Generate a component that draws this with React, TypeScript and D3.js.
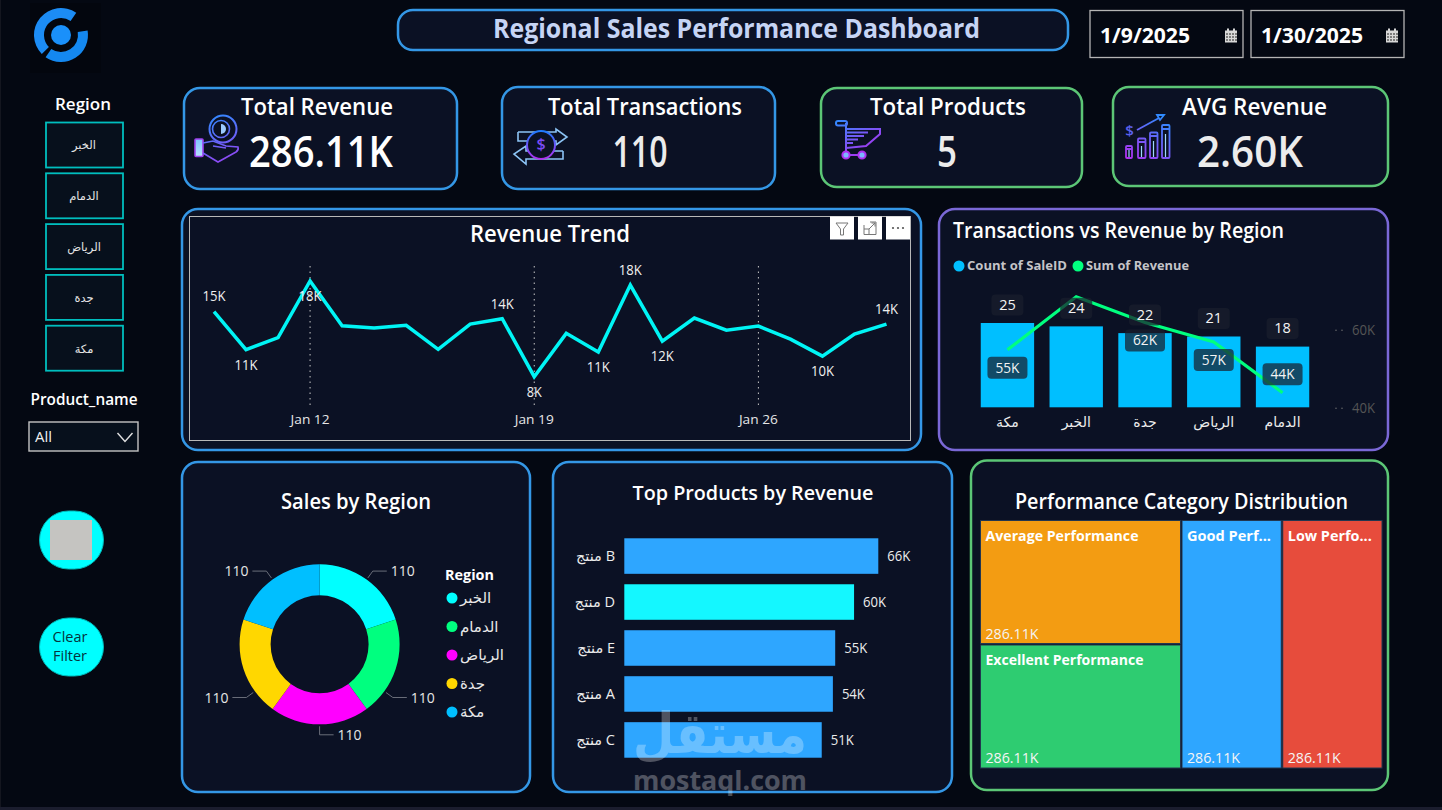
import React from "react";
import * as d3 from "d3";

const FONT = "'Open Sans','DejaVu Sans',sans-serif";

// ---------- data ----------
const trendDays = ["2025-01-09","2025-01-10","2025-01-11","2025-01-12","2025-01-13","2025-01-14","2025-01-15","2025-01-16","2025-01-17","2025-01-18","2025-01-19","2025-01-20","2025-01-21","2025-01-22","2025-01-23","2025-01-24","2025-01-25","2025-01-26","2025-01-27","2025-01-28","2025-01-29","2025-01-30"];
const trendRevenue = [15.07,10.93,12.24,18.4,13.54,13.29,13.58,10.97,13.72,14.3,8.0,12.71,10.68,17.96,11.87,14.37,13.06,13.5,12.08,10.24,12.63,13.72];
const trendLabelled = [0,1,3,9,10,12,13,14,19,21];
const trendLabelsAbove = [0,9,13,21];
const trendTicks = ["2025-01-12","2025-01-19","2025-01-26"];

const comboRegions = ["مكة","الخبر","جدة","الرياض","الدمام"];
const comboCounts = [25,24,22,21,18];
const comboRevenue = [55,68.6,62,57,44];
const comboRevenueShown = [true,false,true,true,true];

const donutRegions = ["الخبر","الدمام","الرياض","جدة","مكة"];
const donutValues = [110,110,110,110,110];
const donutColors = ["#00FFFF","#00FF7F","#FF00FF","#FFD700","#00BFFF"];
const donutLeaderAngles = [36,126,180,234,324];

const products = ["منتج B","منتج D","منتج E","منتج A","منتج C"];
const productRevenue = [66,59.7,54.8,54.2,51.3];
const productColors = ["#2EA6FF","#14F7FF","#2EA6FF","#2EA6FF","#2EA6FF"];

const slicerRegions = ["الخبر","الدمام","الرياض","جدة","مكة"];
const perfNames = ["Average Performance","Excellent Performance","Good Performance","Low Performance"];
const perfValues = [286.11,286.11,286.11,286.11];
const perfColors = ["#F39C12","#2ECC71","#2EA6FF","#E74C3C"];

// ---------- helpers ----------
const BG = "#040812", PANEL = "#0B1124", BLUE = "#3497E6", GREEN = "#5CC676", PURPLE = "#7A68D6";

function T({x,y,w,size=14,weight=400,fill="#fff",anchor="middle",children,opacity}:any){
  return <text x={x} y={y-size*0.05} fontFamily={FONT} fontSize={size} fontWeight={weight} fill={fill} textAnchor={anchor} dominantBaseline="central" opacity={opacity}
    {...(w?{textLength:w,lengthAdjust:"spacingAndGlyphs"}:{})}>{children}</text>;
}
function Panel({x0,y0,x1,y1,stroke,r=16}:any){
  return <rect x={x0} y={y0} width={x1-x0} height={y1-y0} rx={r} fill={PANEL} stroke={stroke} strokeWidth={2.5}/>;
}
function Grad({id,x1,y1,x2,y2,a="#2F8BFF",b="#B030F0"}:any){
  return <linearGradient id={id} gradientUnits="userSpaceOnUse" x1={x1} y1={y1} x2={x2} y2={y2}><stop offset="0" stopColor={a}/><stop offset="1" stopColor={b}/></linearGradient>;
}
function Calendar({x,y}:any){
  return <g>
    <rect x={x-6} y={y-5.5} width={12} height={12} fill="#d8d8d8"/>
    <rect x={x-4} y={y-7.5} width={2} height={3} fill="#d8d8d8"/><rect x={x+2} y={y-7.5} width={2} height={3} fill="#d8d8d8"/>
    {[-3,0,3].map(dy=>[-4,-1,2,5].map(dx=><rect key={dx+"_"+dy} x={x+dx-.5} y={y+dy} width={1} height={2} fill="#222"/>))}
  </g>;
}

export default function App(){
  // trend
  const days = trendDays.map(d=>new Date(d+"T00:00:00"));
  const tx = d3.scaleTime().domain([days[0],days[days.length-1]]).range([214,886.5]);
  const ty = d3.scaleLinear().domain([8,18.4]).range([376.7,281]);
  const trendLine = d3.line<number>().x((_,i)=>tx(days[i])).y(v=>ty(v))(trendRevenue)!;
  const tickFmt = d3.timeFormat("%b %-d");

  // combo
  const cx = d3.scaleBand<string>().domain(comboRegions).range([972.5,1317.5]).paddingInner(0.224).paddingOuter(0.12);
  const cy = d3.scaleLinear().domain([0,25]).range([407.3,323]);
  const cy2 = d3.scaleLinear().domain([40,60]).range([408.3,330.3]);
  const cMid = (r:string)=>cx(r)!+cx.bandwidth()/2;
  const comboLine = d3.line<number>().x((_,i)=>cMid(comboRegions[i])).y(v=>cy2(v))(comboRevenue)!;

  // donut
  const dc = [319.6,644.3];
  const pie = d3.pie<number>().sort(null).startAngle(0).endAngle(2*Math.PI)(donutValues);
  const arc = d3.arc<any>().innerRadius(49).outerRadius(80);

  // products
  const px = d3.scaleLinear().domain([0,66]).range([624.3,878.3]);
  const py = d3.scaleBand<string>().domain(products).range([533,763]).paddingInner(0.227).paddingOuter(0.115);

  // treemap
  const perfRoot = d3.hierarchy<any>({children:[
    {children:[{name:perfNames[0],value:perfValues[0],color:perfColors[0]},{name:perfNames[1],value:perfValues[1],color:perfColors[1]}]},
    {name:perfNames[2],value:perfValues[2],color:perfColors[2]},
    {name:perfNames[3],value:perfValues[3],color:perfColors[3]},
  ]}).sum((d:any)=>d.value||0);
  d3.treemap<any>().size([403,249]).tile((n:any,a:number,b:number,c:number,e:number)=>
    n.depth===0?d3.treemapDice(n,a,b,c,e):d3.treemapSlice(n,a,b,c,e))(perfRoot);
  const perfLeaves:any[] = perfRoot.leaves();

  // logo
  const logoArc = d3.arc<any>().innerRadius(17).outerRadius(27);

  return (
    <svg width={1442} height={810} viewBox="0 0 1442 810" style={{position:"fixed",left:0,top:0,display:"block"}}>
      <defs>
        <Grad id="g1" x1={210} y1={115} x2={235} y2={175}/>
        <Grad id="g2" x1={541} y1={131} x2={541} y2={159} a="#1F7BFF"/>
        <Grad id="g3" x1={836} y1={120} x2={860} y2={160}/>
        <Grad id="g4" x1={1160} y1={115} x2={1130} y2={160}/>
        <linearGradient id="handFill" x1="0" y1="0" x2="0" y2="1"><stop offset="0" stopColor="#7FC4FF"/><stop offset="1" stopColor="#B9E0FF"/></linearGradient>
      </defs>
      <rect width={1442} height={810} fill={BG}/>
      <rect y={807} width={1442} height={3} fill="#1B1D2E"/>
      <rect x={0} width={1} height={807} fill="#14161f"/>

      {/* logo */}
      <rect x={30} y={3} width={71} height={70} fill="#03060E"/>
      <g transform="translate(61,35)">
        <path d={logoArc({startAngle:-2.35,endAngle:0.6})!} fill="#1C8CF5"/>
        <path d={logoArc({startAngle:1.4,endAngle:3.75})!} fill="#1488F0"/>
        <circle r={10} fill="#1A90FA"/>
      </g>

      {/* header */}
      <rect x={398} y={10} width={670} height={40} rx={15} fill={PANEL} stroke={BLUE} strokeWidth={2.5}/>
      <T x={736.5} y={29} w={487} size={26} weight={700} fill="#C6D4F4">Regional Sales Performance Dashboard</T>
      {[[1090,"1/9/2025",1100,90],[1251,"1/30/2025",1261,102]].map(([x,s,tx0,w]:any)=>(
        <g key={s}>
          <rect x={x} y={10.5} width={153} height={47} fill="none" stroke="#B4B4B4" strokeWidth={1.3}/>
          <T x={tx0} y={36} w={w} size={21} weight={700} anchor="start">{s}</T>
          <Calendar x={x+141} y={36}/>
        </g>
      ))}

      {/* slicers */}
      <T x={83} y={104} w={56} size={17} weight={600}>Region</T>
      {slicerRegions.map((r,i)=>(
        <g key={r}>
          <rect x={46} y={122.5+i*50.8} width={77} height={45} fill="#07101C" stroke="#00BEBE" strokeWidth={1.8}/>
          <T x={84} y={145.5+i*50.8} size={11.5} fill="#E4E4E4">{r}</T>
        </g>
      ))}
      <T x={84} y={399} w={107} size={17} weight={600}>Product_name</T>
      <rect x={29} y={422} width={109} height={29} fill="#07101C" stroke="#C4C4C4" strokeWidth={1.4}/>
      <T x={35} y={437.5} w={17} size={14} anchor="start" fill="#F0F0F0">All</T>
      <path d="M117.5,433 L125,441.5 L132.5,433" fill="none" stroke="#E0E0E0" strokeWidth={1.4}/>

      <rect x={39.5} y={511} width={64} height={58} rx={29} fill="#00FFFF" stroke="#00B8B8" strokeWidth={1}/>
      <rect x={50} y={520} width={42} height={40} fill="#C5C4C1"/>
      <rect x={39.5} y={618} width={64} height={58} rx={29} fill="#00FFFF" stroke="#00B8B8" strokeWidth={1}/>
      <T x={70} y={637} w={35} size={15} fill="#05333D">Clear</T>
      <T x={70} y={656} w={34} size={15} fill="#05333D">Filter</T>

      {/* KPI cards */}
      <Panel x0={184} y0={88} x1={457} y1={189} stroke={BLUE}/>
      <Panel x0={502} y0={87} x1={775} y1={189} stroke={BLUE}/>
      <Panel x0={821} y0={88} x1={1082} y1={187} stroke={GREEN}/>
      <Panel x0={1113} y0={87} x1={1388} y1={186} stroke={GREEN}/>
      <T x={317} y={107} w={152} size={23.5} weight={600}>Total Revenue</T>
      <T x={645} y={107} w={194} size={23.5} weight={600}>Total Transactions</T>
      <T x={948} y={107} w={156} size={23.5} weight={600}>Total Products</T>
      <T x={1254.5} y={107} w={145} size={23.5} weight={600}>AVG Revenue</T>
      <T x={321} y={152} w={144} size={44} weight={600}>286.11K</T>
      <T x={640} y={152} w={55} size={44} weight={600} fill="#ECECEC">110</T>
      <T x={947} y={152} w={20} size={44} weight={600} fill="#ECECEC">5</T>
      <T x={1250} y={152} w={106} size={44} weight={600} fill="#ECECEC">2.60K</T>

      {/* icon: hand and coin */}
      <g fill="none" stroke="url(#g1)" strokeWidth={1.6}>
        <circle cx={223} cy={129} r={13.5} strokeWidth={2}/>
        <circle cx={221} cy={129} r={8.5}/>
        <path d="M221,124 A5,5 0 0 1 221,134 Z" fill="#9CCBFF" stroke="none"/>
        <rect x={195} y={139} width={8} height={17.5} rx={1} fill="url(#handFill)" stroke="#A040F0"/>
        <path d="M203,143 L213,141 L226,146 L238,147 Q239,150 236,152 L218,162 L203,153"/>
        <path d="M213,146 L226,148"/>
      </g>
      {/* icon: exchange */}
      <g fill="none" strokeWidth={1.6}>
        <path d="M518,132 L556,132 L556,129 L567,137 L556,145 L556,141 L551,141 M518,132 L518,141 L531,141" stroke="#8CC4F5"/>
        <path d="M563,151 L563,159 L526,159 L526,164 L514,154 L526,146 L526,151 L531,151 M563,151 L551,151" stroke="#8CC4F5"/>
        <circle cx={541} cy={145} r={14} fill={PANEL} stroke="url(#g2)" strokeWidth={2}/>
      </g>
      <T x={541} y={145} size={16} fill="#7A4CF5" weight={600}>$</T>
      {/* icon: cart */}
      <g fill="none" stroke="url(#g3)" strokeWidth={2}>
        <rect x={836} y={121} width={11} height={4.5} rx={2}/>
        <path d="M846,123 L846,152"/>
        <path d="M846,129 L880,129 L880,134 L866,146 L846,148"/>
        <path d="M846,132.5 L868,132.5 M846,136 L864,136 M846,139.5 L858,139.5 M846,143 L853,143"/>
        <path d="M846,155 L862,155"/>
        <circle cx={846} cy={155} r={3.6} fill="#7CB8FF" stroke="#B030F0"/>
        <circle cx={862} cy={155} r={3.6} fill="#7CB8FF" stroke="#B030F0"/>
      </g>
      {/* icon: growth */}
      <g fill="none" stroke="url(#g4)" strokeWidth={1.8}>
        <rect x={1126} y={146} width={6} height={12} rx={1}/>
        <rect x={1138} y={138.5} width={7.5} height={19.5} rx={1}/>
        <rect x={1150} y={132.5} width={7.5} height={25.5} rx={1}/>
        <rect x={1162} y={125} width={7.5} height={33} rx={1}/>
        <path d="M1137,130 L1159,118"/>
        <path d="M1157,115 L1164,115 L1160,120 Z"/>
        <path d="M1126,149 L1132,149 M1138,142 L1145,142 M1150,136 L1157,136 M1162,129 L1169,129"/>
      </g>
      <g stroke="#9FD8FF" strokeWidth={1.2}><path d="M1129,150 V157 M1141.5,146 V157 M1153.5,141 V157 M1165.5,134 V157"/></g>
      <T x={1129.5} y={131} size={15} fill="#5B62F0" weight={600}>$</T>

      {/* Revenue trend */}
      <Panel x0={182} y0={209} x1={921} y1={450} stroke={BLUE}/>
      <rect x={189.5} y={216.5} width={721} height={224} fill="none" stroke="#B8B8B8" strokeWidth={1}/>
      <T x={550} y={234} w={160} size={23.5} weight={600}>Revenue Trend</T>
      {[830,858,886].map(x=><rect key={x} x={x} y={216.5} width={24} height={23} fill="#fff"/>)}
      <path d="M836,223 L848,223 L843.5,229 L843.5,235 L840.5,235 L840.5,229 Z" fill="none" stroke="#777" strokeWidth={1}/>
      <path d="M864,225 L864,234.5 L876,234.5 L876,222 L870,222 M869,229 L875,223 M871.5,223 L875,223 L875,226.5 M864,229 L869,229 L869,234.5" fill="none" stroke="#777" strokeWidth={1}/>
      {[893,898,903].map(x=><circle key={x} cx={x} cy={228} r={1.1} fill="#555"/>)}
      {trendTicks.map(t=>{
        const d = new Date(t+"T00:00:00"), x = tx(d);
        return <g key={t}>
          <line x1={x} x2={x} y1={266} y2={408} stroke="#C8C8C8" strokeWidth={1} strokeDasharray="1.5 4"/>
          <T x={x} y={420} w={39} size={13.5} fill="#E6E6E6">{tickFmt(d)}</T>
        </g>;
      })}
      <path d={trendLine} fill="none" stroke="#00F5F5" strokeWidth={3.5}/>
      {trendLabelled.map(i=>(
        <T key={i} x={tx(days[i])} y={ty(trendRevenue[i])+(trendLabelsAbove.includes(i)?-15:15.5)} size={14.5} w={i===10?15:23} fill="#F0F0F0">
          {Math.round(trendRevenue[i])}K
        </T>
      ))}

      {/* Combo */}
      <Panel x0={939} y0={209} x1={1388} y1={450} stroke={PURPLE}/>
      <T x={953} y={231} w={331} size={21.5} weight={600} anchor="start">Transactions vs Revenue by Region</T>
      <circle cx={959} cy={266} r={5.5} fill="#00BFFF"/>
      <T x={967} y={266} w={100} size={12.5} weight={700} anchor="start" fill="#C4C4C8">Count of SaleID</T>
      <circle cx={1078} cy={266} r={5.5} fill="#00FF7F"/>
      <T x={1086} y={266} w={103} size={12.5} weight={700} anchor="start" fill="#C4C4C8">Sum of Revenue</T>
      {comboRegions.map((r,i)=>(
        <g key={r}>
          <rect x={cx(r)} y={cy(comboCounts[i])} width={cx.bandwidth()} height={cy(0)-cy(comboCounts[i])} fill="#00BFFF"/>
          <T x={cMid(r)} y={422} size={14} fill="#EDEDED">{r}</T>
        </g>
      ))}
      <path d={comboLine} fill="none" stroke="#00FF7F" strokeWidth={3.2}/>
      {comboRegions.map((r,i)=>{
        const labelY = cy(comboCounts[i])-18;
        const last = i===comboRegions.length-1;
        const revY = cy2(comboRevenue[i])+(last?-18.5:18);
        return <g key={r}>
          <rect x={cMid(r)-16} y={labelY-10.5} width={32} height={21} rx={4} fill="rgba(25,30,45,0.72)"/>
          <T x={cMid(r)} y={labelY} size={14.5} fill="#F4F4F4">{comboCounts[i]}</T>
          {comboRevenueShown[i] && <>
            <rect x={cMid(r)-20} y={revY-11} width={40} height={22} rx={4} fill="rgba(25,30,45,0.72)"/>
            <T x={cMid(r)} y={revY} size={14.5} w={24} fill="#F4F4F4">{Math.round(comboRevenue[i])}K</T>
          </>}
        </g>;
      })}
      {cy2.ticks(1).filter(t=>t===40||t===60).map(t=>(
        <g key={t}>
          <circle cx={1336} cy={cy2(t)} r={.7} fill="#777"/><circle cx={1342} cy={cy2(t)} r={.7} fill="#777"/>
          <T x={1352} y={cy2(t)} size={14} w={23} anchor="start" fill="#555">{t}K</T>
        </g>
      ))}

      {/* Donut */}
      <Panel x0={182} y0={462} x1={530} y1={792} stroke={BLUE}/>
      <T x={356} y={502} w={150} size={21.5} weight={600}>Sales by Region</T>
      <g transform={`translate(${dc[0]},${dc[1]})`}>
        {pie.map((s,i)=><path key={i} d={arc(s)!} fill={donutColors[i]}/>)}
        {donutLeaderAngles.map((deg,i)=>{
          const a = deg*Math.PI/180;
          const p0 = d3.pointRadial(a,82), p1 = d3.pointRadial(a,90.5);
          const dir = deg<=180?1:-1, p2x = p1[0]+dir*14;
          return <g key={i}>
            <polyline points={`${p0[0]},${p0[1]} ${p1[0]},${p1[1]} ${p2x},${p1[1]}`} fill="none" stroke="#6A6E7A" strokeWidth={1}/>
            <T x={p2x+dir*4} y={p1[1]} size={15} w={24} anchor={dir>0?"start":"end"} fill="#E6E6E6">{donutValues[i]}</T>
          </g>;
        })}
      </g>
      <T x={445} y={575} w={49} size={14.5} weight={700} anchor="start">Region</T>
      {donutRegions.map((r,i)=>(
        <g key={r}>
          <circle cx={452} cy={598+i*28.5} r={5.5} fill={donutColors[i]}/>
          <T x={460} y={598+i*28.5} size={15} anchor="start" fill="#E8E8E8">{r}</T>
        </g>
      ))}

      {/* Products */}
      <Panel x0={553} y0={462} x1={952} y1={792} stroke={BLUE}/>
      <T x={753} y={493} w={241} size={20.5} weight={600}>Top Products by Revenue</T>
      {products.map((p,i)=>{
        const y = py(p)!, h = py.bandwidth();
        return <g key={p}>
          <rect x={px(0)} y={y} width={px(productRevenue[i])-px(0)} height={h} fill={productColors[i]}/>
          <T x={615} y={y+h/2} size={14.5} anchor="end" fill="#EDEDED">{p}</T>
          <T x={px(productRevenue[i])+9} y={y+h/2} w={23} size={14.5} anchor="start" fill="#EDEDED">{Math.round(productRevenue[i])}K</T>
        </g>;
      })}

      {/* Treemap */}
      <Panel x0={971} y0={460.5} x1={1388} y1={790} stroke={GREEN}/>
      <T x={1181.5} y={502} w={333} size={21.5} weight={600}>Performance Category Distribution</T>
      <g transform="translate(980,520)">
        {perfLeaves.map((n:any)=>{
          const w = n.x1-n.x0, full = n.data.name;
          const shown = w<150 ? full.slice(0,9)+"..." : full;
          return <g key={full}>
            <rect x={n.x0+.5} y={n.y0+.5} width={w-1.5} height={n.y1-n.y0-1.5} fill={n.data.color} stroke="#22364F" strokeWidth={1}/>
            <T x={n.x0+5.5} y={n.y0+16} size={14.5} weight={700} anchor="start" w={w<150?84:(full.startsWith("Average")?153:158)}>{shown}</T>
            <T x={n.x0+5.5} y={n.y1-10.5} size={14.5} w={53} anchor="start" fill="#F4F4F4">{d3.format(".2f")(n.data.value)}K</T>
          </g>;
        })}
      </g>

      {/* watermark */}
      <g opacity={0.28} fill="#fff" fontFamily={FONT}>
        <text x={720} y={731} fontSize={56} fontWeight={700} textAnchor="middle" dominantBaseline="central" textLength={174} lengthAdjust="spacingAndGlyphs">مستقل</text>
        <text x={720} y={779} fontSize={27} fontWeight={700} textAnchor="middle" dominantBaseline="central" textLength={174} lengthAdjust="spacingAndGlyphs">mostaql.com</text>
      </g>
    </svg>
  );
}
